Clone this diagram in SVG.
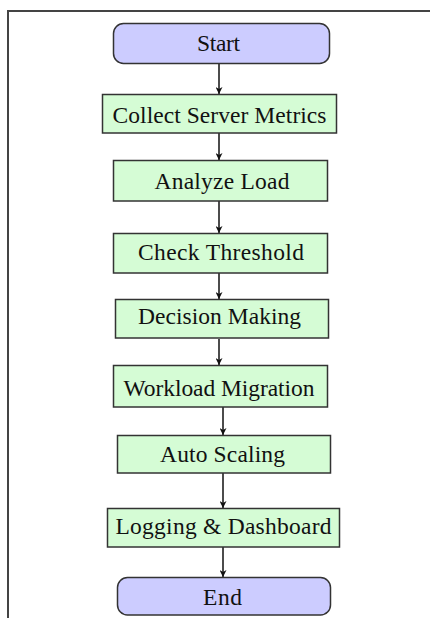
<svg xmlns="http://www.w3.org/2000/svg" width="430" height="618" viewBox="0 0 430 618">
<defs>
<style>
.term{fill:#ccccff;stroke:#333;stroke-width:1.5}
.proc{fill:#d5fcd5;stroke:#333;stroke-width:1.5}
.lbl{font-family:"Liberation Serif","Times New Roman",serif;font-size:23.5px;fill:#111;text-anchor:middle}
.conn{stroke:#111;stroke-width:1.5;fill:none;marker-end:url(#ah)}
.frame{stroke:#444;stroke-width:2;fill:none}
</style>
<marker id="ah" viewBox="0 0 10 10" refX="10" refY="5" markerWidth="7" markerHeight="7" markerUnits="userSpaceOnUse" orient="auto">
<path d="M0,0 L10,5 L0,10 L3,5 Z" fill="#111"/>
</marker>
</defs>
<rect width="430" height="618" fill="#fff"/>
<path class="frame" d="M8,618 V11 H430"/>
<g id="connectors">
<line class="conn" x1="219" y1="63" x2="219" y2="94"/>
<line class="conn" x1="219" y1="133" x2="219" y2="160"/>
<line class="conn" x1="219" y1="201" x2="219" y2="233"/>
<line class="conn" x1="219" y1="273" x2="219" y2="299"/>
<line class="conn" x1="219" y1="339" x2="219" y2="365"/>
<line class="conn" x1="223" y1="407" x2="223" y2="435"/>
<line class="conn" x1="223" y1="473" x2="223" y2="508"/>
<line class="conn" x1="223" y1="547" x2="223" y2="577"/>
</g>
<g id="start">
<rect class="term" x="113.5" y="23.5" width="216" height="40" rx="10"/>
<text class="lbl" x="218.5" y="51" textLength="43">Start</text>
</g>
<g id="collect">
<rect class="proc" x="102.5" y="94.5" width="234" height="38.5"/>
<text class="lbl" x="219.5" y="122.5" textLength="214">Collect Server Metrics</text>
</g>
<g id="analyze">
<rect class="proc" x="113.5" y="160.5" width="214" height="40.5"/>
<text class="lbl" x="222" y="188.5" textLength="135">Analyze Load</text>
</g>
<g id="check">
<rect class="proc" x="113.5" y="233.5" width="214" height="39.5"/>
<text class="lbl" x="221" y="260" textLength="166">Check Threshold</text>
</g>
<g id="decision">
<rect class="proc" x="115.5" y="299.5" width="213" height="38.5"/>
<text class="lbl" x="219.5" y="323.5" textLength="163">Decision Making</text>
</g>
<g id="workload">
<rect class="proc" x="113.5" y="365.5" width="214" height="41.5"/>
<text class="lbl" x="219" y="395.5" textLength="191">Workload Migration</text>
</g>
<g id="autoscaling">
<rect class="proc" x="117.5" y="435.5" width="213" height="37.5"/>
<text class="lbl" x="222.5" y="462" textLength="125">Auto Scaling</text>
</g>
<g id="logging">
<rect class="proc" x="107.5" y="508.5" width="232" height="38.5"/>
<text class="lbl" x="223.5" y="533.5" textLength="216">Logging &amp; Dashboard</text>
</g>
<g id="end">
<rect class="term" x="117.5" y="577.5" width="213" height="37.5" rx="10"/>
<text class="lbl" x="222.5" y="604.5" textLength="39">End</text>
</g>
</svg>
